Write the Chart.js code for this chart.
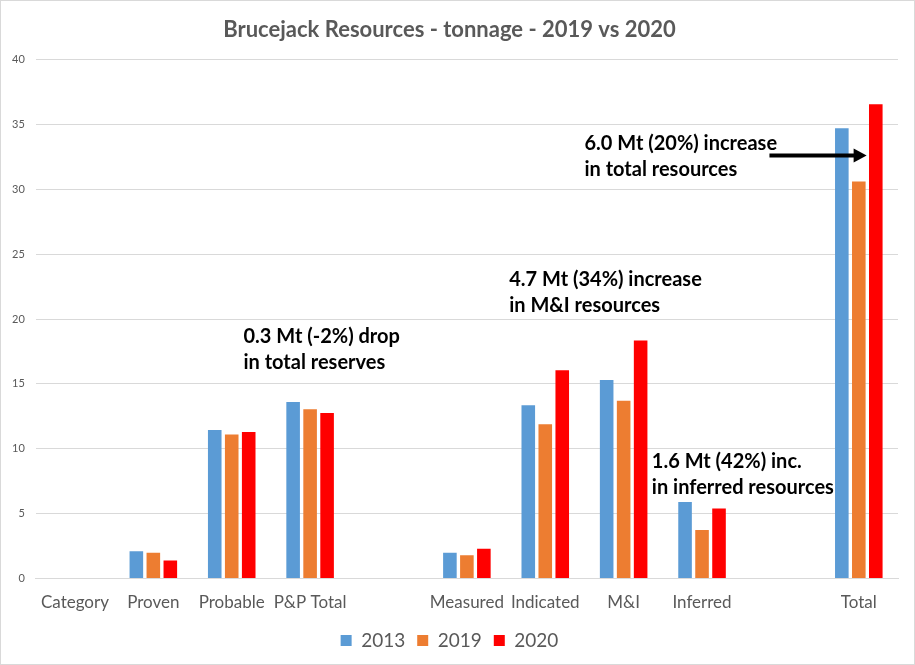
<!DOCTYPE html>
<html>
<head>
<meta charset="utf-8">
<script src="https://cdn.jsdelivr.net/npm/chart.js@4/dist/chart.umd.min.js"></script>
<style>
  body { margin: 0; background: #fff; }
  #wrap { width: 913px; height: 663px; border: 1px solid #d9d9d9; position: relative; }
</style>
</head>
<body>
<div id="wrap"><canvas id="brucejack"></canvas></div>
<script>
// Brucejack tonnage (Mt) by category, 2013 / 2019 / 2020
var categories = ['Category', 'Proven', 'Probable', 'P&P Total', '',
  'Measured', 'Indicated', 'M&I', 'Inferred', '', 'Total'];
var years = ['2013', '2019', '2020'];
var t2013 = [null, 2.1, 11.45, 13.6, null, 2.0, 13.35, 15.3, 5.9, null, 34.7];
var t2019 = [null, 2.0, 11.1, 13.05, null, 1.8, 11.9, 13.7, 3.75, null, 30.6];
var t2020 = [null, 1.4, 11.3, 12.75, null, 2.3, 16.05, 18.35, 5.4, null, 36.55];
var barColors = ['#5B9BD5', '#ED7D31', '#FF0000'];
var yTicks = [0, 5, 10, 15, 20, 25, 30, 35, 40];

// notes: x = category index (fractional), y = value on the axis
var notes = [
  { x: 2.15, y: 18.65, lines: ['0.3 Mt (-2%) drop', 'in total reserves'] },
  { x: 5.54, y: 23.05, lines: ['4.7 Mt (34%) increase', 'in M&I resources'] },
  { x: 7.36, y: 9.0, lines: ['1.6 Mt (42%) inc.', 'in inferred resources'] },
  { x: 6.5, y: 33.55, lines: ['6.0 Mt (20%) increase', 'in total resources'] }
];
var arrow = { x1: 8.86, x2: 10.1, y: 32.6 };

var notesPlugin = {
  id: 'notes',
  afterDatasetsDraw: function (chart) {
    var c = chart.ctx, xs = chart.scales.x, ys = chart.scales.y;
    var step = xs.getPixelForValue(1) - xs.getPixelForValue(0);
    function px(v) { return xs.getPixelForValue(0) + v * step; }
    c.save();
    c.fillStyle = '#000';
    c.font = 'bold 20px Lato, "Open Sans", sans-serif';
    c.textBaseline = 'middle';
    c.textAlign = 'left';
    notes.forEach(function (n) {
      var y0 = ys.getPixelForValue(n.y);
      n.lines.forEach(function (t, i) { c.fillText(t, px(n.x), y0 + i * 26); });
    });
    // arrow
    var ay = ys.getPixelForValue(arrow.y), ax1 = px(arrow.x1), ax2 = px(arrow.x2);
    c.strokeStyle = '#000';
    c.lineWidth = 4;
    c.beginPath(); c.moveTo(ax1, ay); c.lineTo(ax2 - 10, ay); c.stroke();
    c.beginPath();
    c.moveTo(ax2, ay); c.lineTo(ax2 - 13, ay - 7); c.lineTo(ax2 - 13, ay + 7);
    c.closePath(); c.fill();
    c.restore();
  }
};

function ds(label, data, color) {
  return { label: label, data: data, backgroundColor: color,
    categoryPercentage: 0.65, barPercentage: 0.8 };
}

new Chart(document.getElementById('brucejack'), {
  type: 'bar',
  data: {
    labels: categories,
    datasets: [
      ds(years[0], t2013, barColors[0]),
      ds(years[1], t2019, barColors[1]),
      ds(years[2], t2020, barColors[2])
    ]
  },
  options: {
    responsive: true,
    maintainAspectRatio: false,
    animation: false,
    layout: { padding: { left: 0, right: 16, top: 12, bottom: 4 } },
    plugins: {
      title: {
        display: true,
        text: 'Brucejack Resources - tonnage - 2019 vs 2020',
        color: '#595959',
        font: { family: 'Lato, "Open Sans", sans-serif', size: 22, weight: 'bold' },
        padding: { top: 4, bottom: 16 }
      },
      legend: {
        position: 'bottom',
        labels: {
          color: '#595959',
          font: { family: 'Lato, "Open Sans", sans-serif', size: 19 },
          boxWidth: 11, boxHeight: 11, padding: 12
        }
      },
      tooltip: { enabled: false }
    },
    scales: {
      x: {
        grid: { display: false },
        border: { color: '#d9d9d9' },
        ticks: {
          color: '#595959', maxRotation: 0, autoSkip: false, padding: 6,
          font: { family: 'Lato, "Open Sans", sans-serif', size: 17 }
        }
      },
      y: {
        min: 0, max: 40,
        afterBuildTicks: function (axis) { axis.ticks = yTicks.map(function (v) { return { value: v }; }); },
        grid: { color: '#d9d9d9', drawTicks: false },
        border: { display: false },
        ticks: {
          color: '#595959', padding: 11,
          font: { family: 'Lato, "Open Sans", sans-serif', size: 11 }
        }
      }
    }
  },
  plugins: [notesPlugin]
});
</script>
</body>
</html>
